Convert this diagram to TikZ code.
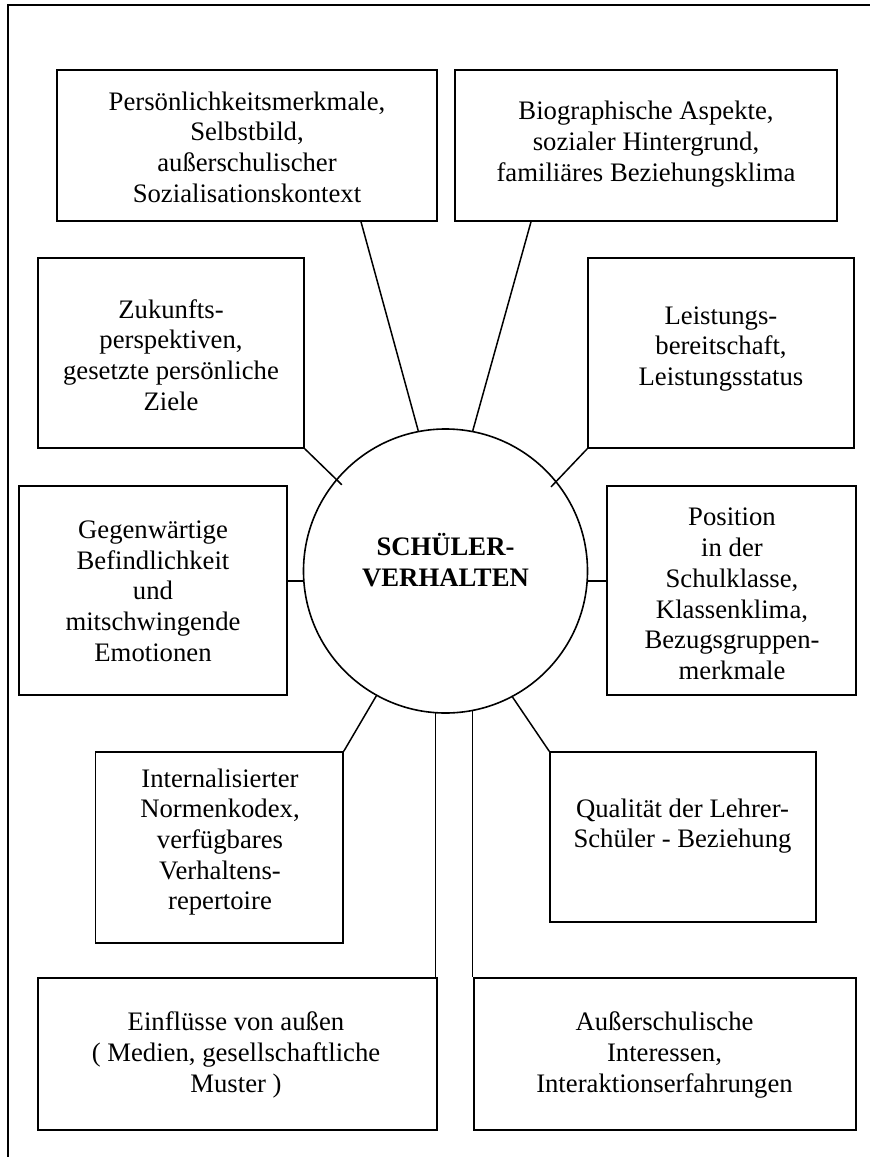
\documentclass[tikz,border=0pt]{standalone}
\usepackage{fontspec}
\setmainfont{Liberation Serif}
\begin{document}
\begin{tikzpicture}[x=1bp,y=-1bp,
  box/.style={draw,line width=1.6bp,inner sep=0pt},
  txt/.style={align=center,font=\fontsize{26.7bp}{30.7bp}\selectfont,inner sep=0pt},
  con/.style={line width=1.5bp}]
\useasboundingbox (0,0) rectangle (870,1157);
\fill[white] (0,0) rectangle (870,1157);
% frame
\coordinate (f1) at (870,5);
\coordinate (f2) at (8,5);
\coordinate (f3) at (8,1157);
\draw[line width=1.6bp] (f1) -- (f2) -- (f3);
% boxes
\node[box,minimum width=380bp,minimum height=151bp] (b1) at (247,145.5) {};
\node[box,minimum width=382bp,minimum height=151bp] (b2) at (646,145.5) {};
\node[box,minimum width=266bp,minimum height=190bp] (b3) at (171,353) {};
\node[box,minimum width=266bp,minimum height=190bp] (b4) at (721,353) {};
\node[box,minimum width=268bp,minimum height=209bp] (b5) at (153,590.5) {};
\node[box,minimum width=249bp,minimum height=209bp] (b6) at (731.5,590.5) {};
\node[box,minimum width=247.5bp,minimum height=191bp] (b7) at (219.25,847.5) {};
\node[box,minimum width=266bp,minimum height=170bp] (b8) at (683,837) {};
\node[box,minimum width=399bp,minimum height=152bp] (b9) at (237.5,1054) {};
\node[box,minimum width=382bp,minimum height=152bp] (b10) at (665,1054) {};
% circle
\node[draw,circle,line width=1.6bp,minimum size=284bp,inner sep=0pt] (c) at (445.5,571) {};
\node[txt,font=\fontsize{26.7bp}{30.7bp}\selectfont\bfseries] (ct) at (445.5,560) {SCHÜLER-\\VERHALTEN};
% texts
\node[txt] (t1) at (247,147) {Persönlichkeitsmerkmale,\\Selbstbild,\\außerschulischer\\Sozialisationskontext};
\node[txt] (t2) at (646,144) {Biographische Aspekte,\\sozialer Hintergrund,\\familiäres Beziehungsklima};
\node[txt] (t3) at (171,355) {Zukunfts-\\perspektiven,\\gesetzte persönliche\\Ziele};
\node[txt] (t4) at (721,349) {Leistungs-\\bereitschaft,\\Leistungsstatus};
\node[txt] (t5) at (153,591) {Gegenwärtige\\Befindlichkeit\\und\\mitschwingende\\Emotionen};
\node[txt] (t6) at (732,594) {Position\\in der\\Schulklasse,\\Klassenklima,\\Bezugsgruppen-\\merkmale};
\node[txt] (t7) at (220,842) {Internalisierter\\Normenkodex,\\verfügbares\\Verhaltens-\\repertoire};
\node[txt] (t8) at (682.5,826) {Qualität der Lehrer-\\Schüler - Beziehung};
\node[txt] (t9) at (236,1055) {Einflüsse von außen\\( Medien, gesellschaftliche\\Muster )};
\node[txt] (t10) at (664.5,1055) {Außerschulische\\Interessen,\\Interaktionserfahrungen};
% connectors
\draw[con] ([xshift=114bp]b1.south) -- (c.101.4);
\draw[con] ([xshift=-115bp]b2.south) -- (c.79);
\draw[con,shorten >=-8bp] (b3.south east) -- (c.140.3);
\draw[con,shorten >=-8bp] (b4.south west) -- (c.39.7);
\draw[con] (c.184) -- (c.184 -| b5.east);
\draw[con] (c.-4) -- (c.-4 -| b6.west);
\draw[con] (c.241.8) -- (b7.north east);
\draw[con] (c.298.2) -- (b8.north west);
\draw[con] (c.266.6) -- (c.266.6 |- b9.north);
\draw[con] (c.281.2) -- (c.281.2 |- b10.north);
\end{tikzpicture}
\end{document}
